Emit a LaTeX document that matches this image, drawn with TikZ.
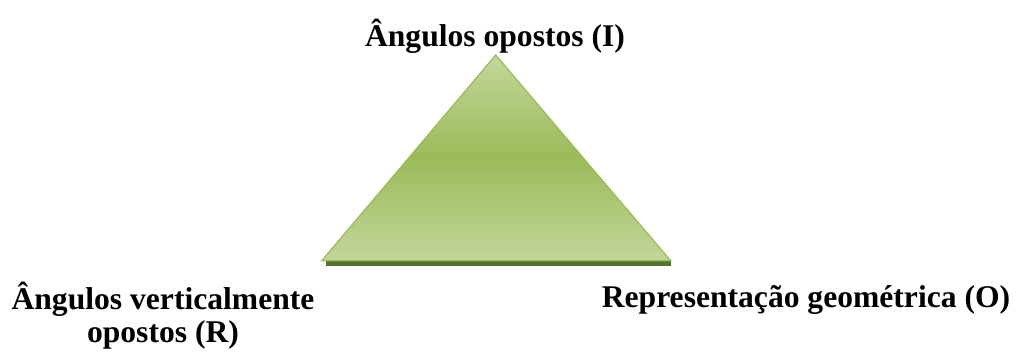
\documentclass[tikz,border=0pt]{standalone}
\usepackage{fontspec}
\setmainfont{Liberation Serif}
\definecolor{olivegreen}{HTML}{9BBB59}
\definecolor{olivelight}{HTML}{C3D69B}
\definecolor{oliveshadow}{HTML}{56702D}
\begin{document}
\begin{tikzpicture}[x=1pt,y=1pt,
    labeltext/.style={font=\fontsize{31.6}{33}\selectfont\bfseries,inner sep=0pt,align=center}]
    \useasboundingbox (0,0) rectangle (1016,352);

    % corners of the triangle
    \coordinate (apex) at (495.7,297);
    \coordinate (baseL) at (321.7,91.3);
    \coordinate (baseR) at (670.7,91.3);

    % shadow under the base
    \fill[oliveshadow] (326,91.3) rectangle (671,86);

    % triangle
    \shadedraw[top color=olivelight,bottom color=olivelight,middle color=olivegreen,
        draw=olivegreen,line width=1.2pt]
    (apex) -- (baseL) -- (baseR) -- cycle;

    % labels
    \node[labeltext,anchor=base] (ilabel) at (495,305) {Ângulos opostos (I)};
    \node[labeltext,anchor=base] (rlabel) at (163,9) {Ângulos verticalmente\\opostos (R)};
    \node[labeltext,anchor=base] (olabel) at (806,44) {Representação geométrica (O)};
\end{tikzpicture}
\end{document}
